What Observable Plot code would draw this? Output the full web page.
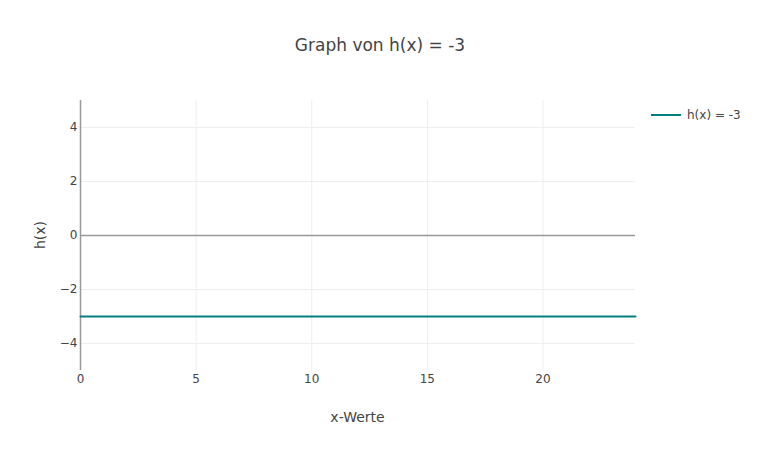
<!DOCTYPE html>
<html>
<head>
<meta charset="utf-8">
<script src="https://cdn.jsdelivr.net/npm/d3@7"></script>
<script src="https://cdn.jsdelivr.net/npm/@observablehq/plot@0.6"></script>
<style>
  html, body { margin: 0; padding: 0; background: #fff; }
  #wrap { position: relative; width: 760px; height: 450px; font-family: "DejaVu Sans", sans-serif; color: #444; }
  .abs { position: absolute; white-space: nowrap; line-height: 1; }
</style>
</head>
<body>
<div id="wrap"></div>
<script>
// Data
const xValues = [0, 24];
const hValues = [-3, -3];
const xTicks = [0, 5, 10, 15, 20];
const yTicks = [-4, -2, 0, 2, 4];
const titleText = "Graph von h(x) = -3";
const seriesName = "h(x) = -3";
const xLabel = "x-Werte";
const yLabel = "h(x)";

const data = xValues.map((x, i) => ({x, y: hValues[i]}));

const chart = Plot.plot({
  width: 760,
  height: 450,
  marginLeft: 80,
  marginRight: 125,
  marginTop: 100,
  marginBottom: 80,
  style: {fontFamily: "'DejaVu Sans', sans-serif", fontSize: "12px", color: "#444", background: "#fff"},
  x: {domain: [0, 24], label: null},
  y: {domain: [-5, 5], label: null},
  marks: [
    Plot.gridY(yTicks.filter(d => d !== 0), {stroke: "#eeeeee", strokeOpacity: 1}),
    Plot.gridX(xTicks.filter(d => d !== 0), {stroke: "#eeeeee", strokeOpacity: 1}),
    Plot.ruleY([0], {stroke: "#999999", strokeWidth: 1.5}),
    Plot.ruleX([0], {stroke: "#999999", strokeWidth: 1.5}),
    Plot.line(data, {x: "x", y: "y", stroke: "#008080", strokeWidth: 2}),
    Plot.axisY({ticks: yTicks, tickSize: 0, tickPadding: 3, label: null, fill: "#444"}),
    Plot.axisX({ticks: xTicks, tickSize: 0, tickPadding: 4, label: null, fill: "#444"})
  ]
});

const wrap = document.getElementById("wrap");
wrap.appendChild(chart);

function addText(txt, css) {
  const d = document.createElement("div");
  d.className = "abs";
  d.textContent = txt;
  Object.assign(d.style, css);
  wrap.appendChild(d);
  return d;
}
// Title
addText(titleText, {left: "0", width: "760px", textAlign: "center", top: "37px", fontSize: "17px"});
// Axis titles
addText(xLabel, {left: "80px", width: "555px", textAlign: "center", top: "410px", fontSize: "14px"});
addText(yLabel, {left: "40px", top: "235px", fontSize: "14px", transform: "translate(-50%, -50%) rotate(-90deg)"});
// Legend
const leg = document.createElement("div");
leg.className = "abs";
Object.assign(leg.style, {left: "651px", top: "109px", display: "flex", alignItems: "center", fontSize: "12px"});
const sw = document.createElement("span");
Object.assign(sw.style, {display: "inline-block", width: "30px", height: "2px", background: "#008080", marginRight: "6px"});
const lt = document.createElement("span");
lt.textContent = seriesName;
leg.appendChild(sw); leg.appendChild(lt);
wrap.appendChild(leg);
</script>
</body>
</html>
